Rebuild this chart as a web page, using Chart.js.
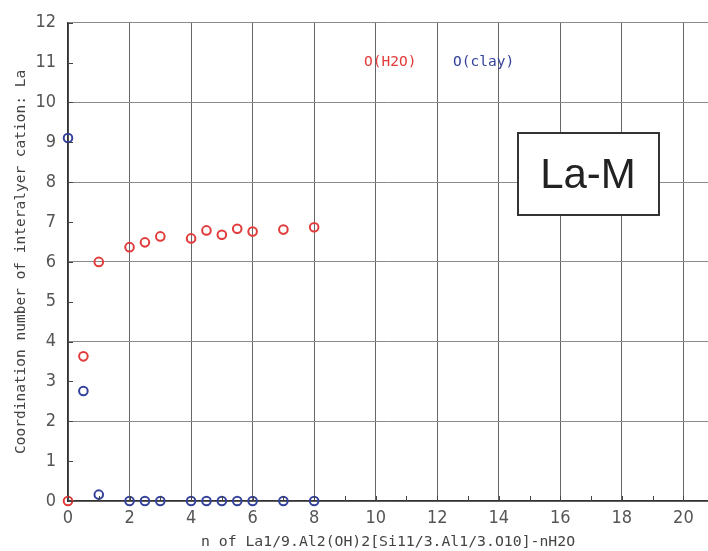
<!DOCTYPE html>
<html>
<head>
<meta charset="utf-8">
<script src="https://cdn.jsdelivr.net/npm/chart.js@4.4.1/dist/chart.umd.min.js"></script>
<style>
  html, body { margin: 0; padding: 0; background: #fff; overflow: hidden; }
  canvas { display: block; }
</style>
</head>
<body>
<canvas id="coordChart" width="708" height="551"></canvas>
<script>
// n (H2O per formula unit) for each run
const waterN = [0, 0.5, 1, 2, 2.5, 3, 4, 4.5, 5, 5.5, 6, 7, 8];
const clayN = [0, 0.5, 1, 2, 2.5, 3, 4, 4.5, 5, 5.5, 6, 7, 8];

// coordination number of La by water oxygen / clay oxygen
const waterO = [0, 3.63, 6.0, 6.37, 6.49, 6.64, 6.59, 6.79, 6.68, 6.83, 6.76, 6.81, 6.87];
const clayO = [9.11, 2.76, 0.16, 0, 0, 0, 0, 0, 0, 0, 0, 0, 0];

const seriesNames = ['O(H2O)', 'O(clay)'];
const xTickValues = [0, 1, 2, 3, 4, 5, 6, 7, 8, 9, 10, 11, 12, 13, 14, 15, 16, 17, 18, 19, 20];
const yTickValues = [0, 1, 2, 3, 4, 5, 6, 7, 8, 9, 10, 11, 12];

const RED = '#e23b3b';
const BLUE = '#34429c';
const monoFont = "'DejaVu Sans Mono', 'Liberation Mono', monospace";
const tickFont = "'Liberation Sans Narrow', 'DejaVu Sans Condensed', 'Liberation Sans', sans-serif";

function toPoints(xs, ys) {
    return xs.map((x, i) => ({ x: x, y: ys[i] }));
}

// small inward tick marks, the legend text and the sample label box
const overlay = {
    id: 'overlay',
    afterDraw(chart) {
        const ctx = chart.ctx;
        const xs = chart.scales.x;
        const ys = chart.scales.y;
        const area = chart.chartArea;

        ctx.save();
        ctx.strokeStyle = '#444';
        ctx.lineWidth = 1;
        xTickValues.forEach(v => {
            const px = Math.round(xs.getPixelForValue(v)) + 0.5;
            ctx.beginPath();
            ctx.moveTo(px, area.bottom);
            ctx.lineTo(px, area.bottom - 5);
            ctx.stroke();
        });
        yTickValues.forEach(v => {
            const py = Math.round(ys.getPixelForValue(v)) + 0.5;
            ctx.beginPath();
            ctx.moveTo(area.left, py);
            ctx.lineTo(area.left + 5, py);
            ctx.stroke();
        });

        ctx.font = '14.5px ' + monoFont;
        ctx.textBaseline = 'middle';
        ctx.textAlign = 'left';
        ctx.fillStyle = RED;
        ctx.fillText(seriesNames[0], 364, 62);
        ctx.fillStyle = BLUE;
        ctx.fillText(seriesNames[1], 453, 62);

        ctx.fillStyle = '#fff';
        ctx.fillRect(518, 133, 141, 82);
        ctx.strokeStyle = '#333';
        ctx.lineWidth = 2;
        ctx.strokeRect(518, 133, 141, 82);
        ctx.fillStyle = '#222';
        ctx.font = '42px "Liberation Sans", Arial, sans-serif';
        ctx.textAlign = 'center';
        ctx.textBaseline = 'alphabetic';
        ctx.fillText('La-M', 588, 188);
        ctx.restore();
    }
};

function initializeChart() {
    const chartCtx = document.getElementById('coordChart').getContext('2d');
    return new Chart(chartCtx, {
        type: 'scatter',
        data: {
            datasets: [
                {
                    label: seriesNames[0],
                    data: toPoints(waterN, waterO),
                    borderColor: RED,
                    backgroundColor: 'rgba(255, 255, 255, 0)',
                    pointRadius: 4.3,
                    pointBorderWidth: 2,
                    clip: false
                },
                {
                    label: seriesNames[1],
                    data: toPoints(clayN, clayO),
                    borderColor: BLUE,
                    backgroundColor: 'rgba(255, 255, 255, 0)',
                    pointRadius: 4.3,
                    pointBorderWidth: 2,
                    clip: false
                }
            ]
        },
        options: {
            responsive: false,
            animation: false,
            devicePixelRatio: 1,
            layout: {
                autoPadding: false,
                padding: { top: 20, right: 0, bottom: 0, left: 0 }
            },
            plugins: {
                legend: { display: false },
                tooltip: { enabled: false }
            },
            scales: {
                x: {
                    type: 'linear',
                    min: 0,
                    max: 20.8,
                    afterBuildTicks: scale => {
                        scale.ticks = xTickValues.map(v => ({ value: v }));
                    },
                    afterFit: scale => {
                        scale.height = 50;
                        scale.paddingRight = 0;
                        scale.paddingLeft = 0;
                    },
                    ticks: {
                        autoSkip: false,
                        maxRotation: 0,
                        padding: 7,
                        color: '#555',
                        font: { family: tickFont, size: 18 },
                        callback: v => (v % 2 === 0 ? String(v) : '')
                    },
                    grid: {
                        drawTicks: false,
                        color: c => (c.tick && c.tick.value % 2 === 0 ? '#666' : 'rgba(0,0,0,0)'),
                        lineWidth: 1
                    },
                    border: { color: '#333', width: 1.5 },
                    title: {
                        display: true,
                        text: 'n of La1/9.Al2(OH)2[Si11/3.Al1/3.O10]-nH2O',
                        color: '#444',
                        font: { family: monoFont, size: 14.8 },
                        padding: { top: 0, bottom: 0 }
                    }
                },
                y: {
                    type: 'linear',
                    min: 0,
                    max: 12,
                    afterBuildTicks: scale => {
                        scale.ticks = yTickValues.map(v => ({ value: v }));
                    },
                    afterFit: scale => { scale.width = 68; },
                    ticks: {
                        autoSkip: false,
                        padding: 12,
                        color: '#555',
                        font: { family: tickFont, size: 18 }
                    },
                    grid: {
                        drawTicks: false,
                        color: c => (c.tick && c.tick.value % 2 === 0 ? '#8a8a8a' : 'rgba(0,0,0,0)'),
                        lineWidth: 1
                    },
                    border: { color: '#333', width: 1.5 },
                    title: {
                        display: true,
                        text: 'Coordination number of interalyer cation: La',
                        color: '#444',
                        font: { family: monoFont, size: 14.5 },
                        padding: { top: 13, bottom: 0 }
                    }
                }
            }
        },
        plugins: [overlay]
    });
}

document.addEventListener('DOMContentLoaded', () => {
    initializeChart();
});
</script>
</body>
</html>
